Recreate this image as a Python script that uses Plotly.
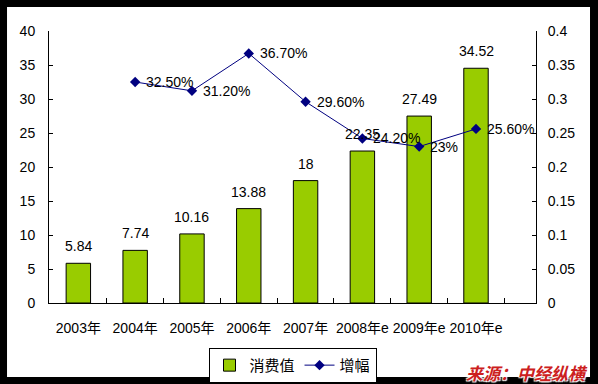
import plotly.graph_objects as go

categories = ["2003年", "2004年", "2005年", "2006年", "2007年", "2008年e", "2009年e", "2010年e"]
consumption = [5.84, 7.74, 10.16, 13.88, 18, 22.35, 27.49, 34.52]
growth = [None, 0.325, 0.312, 0.367, 0.296, 0.242, 0.23, 0.256]
consumption_labels = ["5.84", "7.74", "10.16", "13.88", "18", "22.35", "27.49", "34.52"]
growth_labels = [None, "32.50%", "31.20%", "36.70%", "29.60%", "24.20%", "23%", "25.60%"]

FONT = "Arial, 'Liberation Sans', 'Noto Sans CJK SC', sans-serif"

fig = go.Figure()
fig.add_trace(go.Bar(
    x=categories, y=consumption, name="消费值",
    marker=dict(color="#99CC00", line=dict(color="black", width=1)),
    yaxis="y",
))
fig.add_trace(go.Scatter(
    x=categories, y=growth, name="增幅", mode="lines+markers",
    line=dict(color="#000080", width=1),
    marker=dict(symbol="diamond", size=8, color="#000080"),
    yaxis="y2",
))

annotations = []
for c, v, t in zip(categories, consumption, consumption_labels):
    annotations.append(dict(x=c, y=v, xref="x", yref="y", text=t, showarrow=False,
                            yanchor="bottom", xanchor="center", yshift=7,
                            font=dict(size=14, color="black", family=FONT)))
for c, v, t in zip(categories, growth, growth_labels):
    if v is None:
        continue
    annotations.append(dict(x=c, y=v, xref="x", yref="y2", text=t, showarrow=False,
                            yanchor="middle", xanchor="left", xshift=9,
                            font=dict(size=14, color="black", family=FONT)))
annotations.append(dict(x=1.111, y=-0.254, xref="paper", yref="paper", text="<b><i>来源：中经纵横</i></b>",
                        showarrow=False, xanchor="right", yanchor="middle",
                        font=dict(size=17, color="#CC2020", family="'Noto Sans CJK SC', sans-serif",
                                  shadow="1px 1px 1px white, -1px -1px 1px white, 1px -1px 1px white, -1px 1px 1px white")))

fig.update_layout(
    width=598, height=384,
    margin=dict(l=49, r=62, t=31, b=81, pad=0, autoexpand=False),
    paper_bgcolor="black", plot_bgcolor="white",
    font=dict(family=FONT, size=14, color="black"),
    bargap=0.57,
    showlegend=True,
    legend=dict(orientation="h", x=0.5, xanchor="center", y=-0.165, yanchor="top",
                bordercolor="black", borderwidth=1, bgcolor="white",
                font=dict(size=15, family=FONT), itemwidth=30, tracegroupgap=0),
    xaxis=dict(type="category", showline=True, linecolor="black", linewidth=1,
               ticks="inside", ticklen=5, tickcolor="black", tickson="boundaries",
               showgrid=False, ticklabelstandoff=12, tickangle=0, automargin=False,
               tickfont=dict(size=14)),
    yaxis=dict(range=[0, 40], dtick=5, showline=True, linecolor="black", linewidth=1,
               ticks="inside", ticklen=4, tickcolor="black", showgrid=False, zeroline=False,
               ticklabelstandoff=10, automargin=False, tickfont=dict(size=14)),
    yaxis2=dict(range=[0, 0.4], dtick=0.05, overlaying="y", side="right", showline=True,
                linecolor="black", linewidth=1, ticks="inside", ticklen=4, tickcolor="black",
                showgrid=False, zeroline=False, ticklabelstandoff=8, automargin=False,
                tickfont=dict(size=14)),
    annotations=annotations,
    shapes=[dict(type="rect", xref="paper", yref="paper", x0=-0.0862, x1=1.1109,
                 y0=-0.2721, y1=1.0882, fillcolor="white", line=dict(width=0), layer="below")],
)

fig.write_html("out.html", config={"displayModeBar": False},
               post_script="document.body.style.margin='0px';")
